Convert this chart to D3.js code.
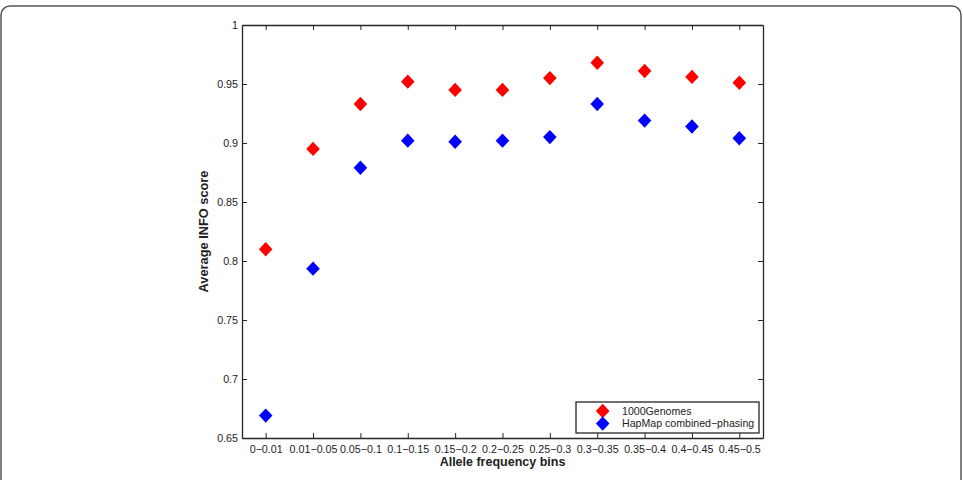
<!DOCTYPE html>
<html>
<head>
<meta charset="utf-8">
<script src="https://cdn.jsdelivr.net/npm/d3@7"></script>
<style>
  body { margin: 0; background: #fff; }
  svg { display: block; font-family: "Liberation Sans", Arial, sans-serif; }
</style>
</head>
<body>
<div id="chart"></div>
<script>
// data
const bins = ['0\u22120.01', '0.01\u22120.05', '0.05\u22120.1', '0.1\u22120.15', '0.15\u22120.2',
    '0.2\u22120.25', '0.25\u22120.3', '0.3\u22120.35', '0.35\u22120.4', '0.4\u22120.45', '0.45\u22120.5'];
const genomes1000 = [0.810, 0.895, 0.933, 0.952, 0.945, 0.945, 0.955, 0.968, 0.961, 0.956, 0.951];
const hapmapCombined = [0.669, 0.7935, 0.879, 0.902, 0.901, 0.902, 0.905, 0.933, 0.919, 0.914, 0.904];
const seriesNames = ['1000Genomes', 'HapMap combined\u2212phasing'];
const seriesColors = ['#ff0000', '#0000ff'];
const yTicks = [0.65, 0.7, 0.75, 0.8, 0.85, 0.9, 0.95, 1];

function whenDocumentLoaded(action) {
    if (document.readyState === "loading") {
        document.addEventListener("DOMContentLoaded", action);
    } else {
        action();
    }
}

// matlab style diamond, a bit taller than wide
function diamond(cx, cy, hw, hh) {
    return 'M' + cx + ',' + (cy - hh) + 'L' + (cx + hw) + ',' + cy +
        'L' + cx + ',' + (cy + hh) + 'L' + (cx - hw) + ',' + cy + 'Z';
}

function drawChart() {
    const width = 963, height = 480;
    const plot = {left: 242, right: 763, top: 25, bottom: 438};
    const axisColor = '#262626';

    const svg = d3.select('#chart')
        .append('svg')
        .attr('width', width)
        .attr('height', height);

    // outer rounded frame (bottom runs off the picture)
    svg.append('rect')
        .attr('x', 1)
        .attr('y', 6)
        .attr('width', 960)
        .attr('height', 520)
        .attr('rx', 9)
        .attr('fill', 'none')
        .attr('stroke', '#555')
        .attr('stroke-width', 1.5);

    const x = d3.scalePoint()
        .domain(bins)
        .range([plot.left, plot.right])
        .padding(0.5);

    const y = d3.scaleLinear()
        .domain([0.65, 1])
        .range([plot.bottom, plot.top]);

    const fmt = d3.format('~g');

    function styleAxis(g) {
        g.select('.domain').attr('stroke', axisColor).attr('stroke-width', 1.3);
        g.selectAll('.tick line').attr('stroke', axisColor).attr('stroke-width', 1);
        g.selectAll('.tick text')
            .attr('fill', '#222')
            .style('font-size', '10.7px')
            .style('font-family', '"Liberation Sans", Arial, sans-serif');
    }

    // bottom
    svg.append('g')
        .attr('transform', 'translate(0,' + plot.bottom + ')')
        .call(d3.axisBottom(x).tickSizeInner(-5).tickSizeOuter(0).tickPadding(7))
        .call(styleAxis);

    // top (ticks only)
    svg.append('g')
        .attr('transform', 'translate(0,' + plot.top + ')')
        .call(d3.axisTop(x).tickSizeInner(-5).tickSizeOuter(0).tickFormat(''))
        .call(styleAxis);

    // left
    svg.append('g')
        .attr('transform', 'translate(' + plot.left + ',0)')
        .call(d3.axisLeft(y).tickValues(yTicks).tickFormat(fmt)
            .tickSizeInner(-5).tickSizeOuter(0).tickPadding(4))
        .call(styleAxis);

    // right (ticks only)
    svg.append('g')
        .attr('transform', 'translate(' + plot.right + ',0)')
        .call(d3.axisRight(y).tickValues(yTicks).tickFormat('')
            .tickSizeInner(-5).tickSizeOuter(0))
        .call(styleAxis);

    // axis titles
    svg.append('text')
        .attr('x', (plot.left + plot.right) / 2)
        .attr('y', 466)
        .attr('text-anchor', 'middle')
        .style('font-size', '12.5px')
        .style('font-weight', 'bold')
        .attr('fill', '#222')
        .text('Allele frequency bins');

    svg.append('text')
        .attr('transform', 'translate(208,' + (plot.top + plot.bottom) / 2 + ') rotate(-90)')
        .attr('text-anchor', 'middle')
        .style('font-size', '12.8px')
        .style('font-weight', 'bold')
        .attr('fill', '#222')
        .text('Average INFO score');

    // markers
    const allSeries = [genomes1000, hapmapCombined];
    allSeries.forEach(function(values, s) {
        svg.append('g')
            .selectAll('path')
            .data(values)
            .enter()
            .append('path')
            .attr('d', function(d, i) {
                return diamond(x(bins[i]), y(d), 6.8, 7.2);
            })
            .attr('fill', seriesColors[s]);
    });

    // legend
    const legend = svg.append('g').attr('transform', 'translate(576,402)');
    legend.append('rect')
        .attr('width', 183)
        .attr('height', 31)
        .attr('fill', '#fff')
        .attr('stroke', axisColor)
        .attr('stroke-width', 1.3);

    seriesNames.forEach(function(name, s) {
        const cy = 9 + s * 12.6;
        legend.append('path')
            .attr('d', diamond(26.7, cy, 6.8, 7.2))
            .attr('fill', seriesColors[s]);
        legend.append('text')
            .attr('x', 46)
            .attr('y', cy + 3.8)
            .style('font-size', '10.6px')
            .attr('fill', '#222')
            .text(name);
    });
}

whenDocumentLoaded(drawChart);
</script>
</body>
</html>
